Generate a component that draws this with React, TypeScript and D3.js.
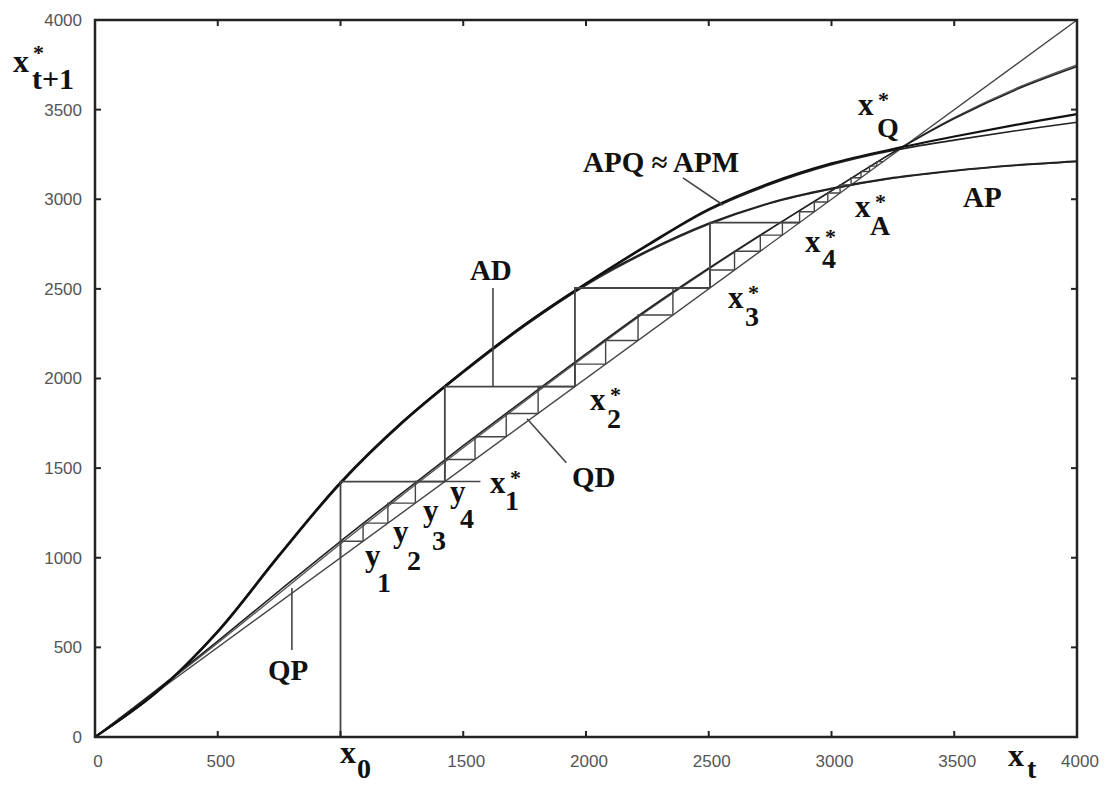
import React from "react";
import * as d3 from "d3";

const W = 1108;
const H = 785;

// axis ticks (both axes 0..4000); the 1000 label on x is replaced by x0
const TICKS = [0, 500, 1000, 1500, 2000, 2500, 3000, 3500, 4000];
const X_LABELS = [0, 500, 1500, 2000, 2500, 3000, 3500, 4000];

// sample grid of x_t for the model curves
const XS = [0, 250, 500, 750, 1000, 1250, 1500, 1750, 2000, 2250, 2500, 2750, 3000, 3250, 3500, 3750, 4000];

// x_{t+1} for each model
const APQ = [0, 250, 590, 1015, 1420, 1755, 2040, 2300, 2530, 2745, 2945, 3090, 3200, 3280, 3350, 3415, 3475];
const APM = [0, 248, 585, 1010, 1415, 1750, 2035, 2295, 2525, 2740, 2938, 3082, 3192, 3272, 3330, 3382, 3430];
const AD = [0, 250, 590, 1015, 1420, 1755, 2040, 2300, 2528, 2712, 2865, 2980, 3060, 3120, 3160, 3190, 3212];
const AP = [0, 246, 583, 1007, 1412, 1747, 2032, 2292, 2520, 2706, 2860, 2977, 3057, 3117, 3158, 3188, 3210];
const QD = [0, 262, 535, 815, 1092, 1360, 1625, 1882, 2137, 2385, 2615, 2835, 3048, 3260, 3450, 3610, 3740];
const QP = [0, 258, 525, 800, 1078, 1348, 1614, 1872, 2128, 2378, 2610, 2832, 3046, 3262, 3456, 3618, 3750];
const DIAG = [0, 4000];

// cobweb of the annual model (x0, x1*, x2*, x3*, x4*)
const COBWEB = [1000, 1425, 1955, 2505, 2870];
// small quarterly staircase (y1, y2, ...)
const STAIRS = [1000, 1092, 1193, 1305, 1425, 1548, 1675, 1805, 1955, 2080, 2212, 2354, 2505, 2605, 2710, 2800, 2870, 2930, 2985, 3035, 3080, 3120, 3155, 3185, 3210];

const SERIF = "'Liberation Serif', 'Times New Roman', serif";
const SANS = "'Liberation Sans', Arial, sans-serif";

const x = d3.scaleLinear().domain([0, 4000]).range([95, 1077]);
const y = d3.scaleLinear().domain([0, 4000]).range([737, 20]);

const curve = d3
  .line<[number, number]>()
  .x(d => x(d[0]))
  .y(d => y(d[1]))
  .curve(d3.curveCatmullRom.alpha(0.5));

const pts = (ys: number[]) => XS.map((v, i) => [v, ys[i]] as [number, number]);

function Sym({ at, base, sub, star = true, sdx = 16, sdy = 18 }: {
  at: [number, number]; base: string; sub: string; star?: boolean; sdx?: number; sdy?: number;
}) {
  const px = x(at[0]);
  const py = y(at[1]);
  return (
    <g fontFamily={SERIF} fontWeight="bold" fill="#111">
      <text x={px} y={py} fontSize={31}>{base}</text>
      {star && <text x={px + 20} y={py - 8} fontSize={22}>*</text>}
      <text x={px + sdx} y={py + sdy} fontSize={28}>{sub}</text>
    </g>
  );
}

export default function App() {
  let cob = `M${x(COBWEB[0])},${y(0)}V${y(COBWEB[1])}H${x(COBWEB[1])}`;
  for (let k = 1; k < COBWEB.length - 1; k++) {
    cob += `M${x(COBWEB[k])},${y(COBWEB[k])}V${y(COBWEB[k + 1])}H${x(COBWEB[k + 1])}`;
  }
  let st = "";
  for (let k = 0; k < STAIRS.length - 1; k++) {
    st += `M${x(STAIRS[k])},${y(STAIRS[k])}V${y(STAIRS[k + 1])}H${x(STAIRS[k + 1])}`;
  }

  const curves = [
    { d: QP, w: 1.3, c: "#555" },
    { d: QD, w: 1.6, c: "#222" },
    { d: AP, w: 1.4, c: "#333" },
    { d: AD, w: 1.8, c: "#222" },
    { d: APM, w: 1.6, c: "#222" },
    { d: APQ, w: 2.2, c: "#111" },
  ];

  return (
    <>
      <style>{`body{margin:0;background:#fff}`}</style>
      <svg width={W} height={H} style={{ display: "block" }}>
        <rect width={W} height={H} fill="#fff" />

        {/* diagonal */}
        <line x1={x(DIAG[0])} y1={y(DIAG[0])} x2={x(DIAG[1])} y2={y(DIAG[1])} stroke="#444" strokeWidth={1.4} />

        {curves.map((c, i) => (
          <path key={i} d={curve(pts(c.d)) ?? ""} fill="none" stroke={c.c} strokeWidth={c.w} />
        ))}

        <path d={st} fill="none" stroke="#444" strokeWidth={1.4} />
        <path d={cob} fill="none" stroke="#444" strokeWidth={1.8} />

        {/* leaders */}
        <g stroke="#444" strokeWidth={1.6}>
          <line x1={x(COBWEB[1])} y1={y(COBWEB[1])} x2={x(1570)} y2={y(COBWEB[1])} />
          <line x1={x(1621)} y1={y(1953)} x2={x(1621)} y2={y(2505)} />
          <line x1={x(1760)} y1={y(1775)} x2={x(1920)} y2={y(1530)} />
          <line x1={x(802)} y1={y(831)} x2={x(802)} y2={y(485)} />
          <line x1={x(2395)} y1={y(3119)} x2={x(2558)} y2={y(2968)} />
        </g>

        {/* frame */}
        <rect x={x(0)} y={y(4000)} width={x(4000) - x(0)} height={y(0) - y(4000)} fill="none" stroke="#222" strokeWidth={2.5} />
        <g stroke="#222" strokeWidth={2}>
          {TICKS.slice(1, -1).map(t => (
            <g key={t}>
              <line x1={x(t)} x2={x(t)} y1={y(0)} y2={y(0) - 6} />
              <line x1={x(t)} x2={x(t)} y1={y(4000)} y2={y(4000) + 6} />
              <line x1={x(0)} x2={x(0) + 6} y1={y(t)} y2={y(t)} />
              <line x1={x(4000)} x2={x(4000) - 6} y1={y(t)} y2={y(t)} />
            </g>
          ))}
        </g>

        {/* tick labels */}
        <g fontFamily={SANS} fontSize={17} fill="#555">
          {TICKS.map(t => (
            <text key={"y" + t} x={82} y={y(t)} dy="0.35em" textAnchor="end">{t}</text>
          ))}
          {X_LABELS.map(t => (
            <text key={"x" + t} x={x(t) + 3} y={767} textAnchor="middle">{t}</text>
          ))}
        </g>

        {/* axis titles */}
        <g fontFamily={SERIF} fontWeight="bold" fill="#111">
          <text x={13} y={72} fontSize={32}>x</text>
          <text x={33} y={60} fontSize={22}>*</text>
          <text x={32} y={89} fontSize={30}>t+1</text>
          <text x={1008} y={766} fontSize={32}>x</text>
          <text x={1027} y={778} fontSize={28}>t</text>
          <text x={340} y={763} fontSize={32}>x</text>
          <text x={357} y={778} fontSize={28}>0</text>
        </g>

        {/* annotations */}
        <Sym at={[3108, 3470]} base="x" sub="Q" sdx={19} sdy={22} />
        <Sym at={[3096, 2901]} base="x" sub="A" sdx={15} />
        <Sym at={[2892, 2706]} base="x" sub="4" sdx={17} sdy={16} />
        <Sym at={[2578, 2393]} base="x" sub="3" sdx={17} />
        <Sym at={[2016, 1824]} base="x" sub="2" sdx={17} />
        <Sym at={[1609, 1361]} base="x" sub="1" sdx={15} sdy={17} />
        <Sym at={[1100, 954]} base="y" sub="1" star={false} sdx={12} sdy={26} />
        <Sym at={[1214, 1088]} base="y" sub="2" star={false} sdx={14} sdy={28} />
        <Sym at={[1336, 1205]} base="y" sub="3" star={false} sdx={9} sdy={29} />
        <Sym at={[1446, 1311]} base="y" sub="4" star={false} sdx={10} sdy={26} />

        <g fontFamily={SERIF} fontWeight="bold" fill="#111" fontSize={29}>
          <text x={x(1527)} y={y(2550)}>AD</text>
          <text x={x(1943)} y={y(1395)}>QD</text>
          <text x={x(705)} y={y(318)}>QP</text>
          <text x={x(3536)} y={y(2957)}>AP</text>
          <text x={x(1988)} y={y(3152)}>APQ ≈ APM</text>
        </g>
      </svg>
    </>
  );
}
